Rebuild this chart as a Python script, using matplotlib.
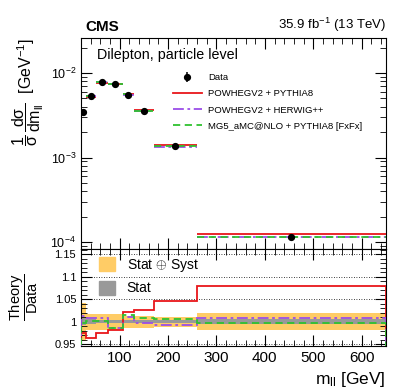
import numpy as np
import matplotlib
matplotlib.use("Agg")
import matplotlib.pyplot as plt
from matplotlib.patches import Patch
from matplotlib.lines import Line2D
from matplotlib.ticker import MultipleLocator, FixedLocator

plt.rcParams['font.family'] = ['Liberation Sans', 'DejaVu Sans']
plt.rcParams['mathtext.fontset'] = 'custom'
plt.rcParams['mathtext.rm'] = 'Liberation Sans'
plt.rcParams['mathtext.it'] = 'Liberation Sans:italic'
plt.rcParams['mathtext.sf'] = 'Liberation Sans'

# bin edges in m_ll [GeV]
bin_edges = [20, 30, 50, 76, 106, 130, 170, 260, 650]

# normalised cross section (data) [1/GeV]
data_xsec = [3.46e-3, 5.34e-3, 7.76e-3, 7.50e-3, 5.50e-3, 3.52e-3, 1.36e-3, 1.15e-4]

# relative uncertainties (half width of the bands)
rel_tot = [0.042, 0.018, 0.018, 0.018, 0.013, 0.013, 0.011, 0.019]
rel_stat = [0.008, 0.005, 0.004, 0.004, 0.004, 0.004, 0.004, 0.006]

# theory / data ratios
ratio_pw_py = [0.975, 0.964, 0.976, 0.982, 1.021, 1.027, 1.045, 1.080]
ratio_pw_hw = [1.012, 1.008, 1.008, 0.987, 1.010, 0.998, 0.993, 1.008]
ratio_mg = [0.997, 1.002, 1.002, 0.986, 1.014, 1.008, 1.006, 0.996]

labels = ["POWHEGV2 + PYTHIA8", "POWHEGV2 + HERWIG++", "MG5_aMC@NLO + PYTHIA8 [FxFx]"]
colors = ["#e8161a", "#9b4ee8", "#2fc12f"]
styles = ["-", (0, (6, 2, 1.5, 2)), (0, (4, 2.5))]

edges = np.array(bin_edges, dtype=float)
centers = 0.5 * (edges[:-1] + edges[1:])
data = np.array(data_xsec)
ratios = [np.array(ratio_pw_py), np.array(ratio_pw_hw), np.array(ratio_mg)]

fig = plt.figure(figsize=(4.07, 3.91), dpi=100)
ax = fig.add_axes([0.199, 0.363, 0.749, 0.540])
rax = fig.add_axes([0.199, 0.115, 0.749, 0.248], sharex=ax)

# top panel: predictions as horizontal segments per bin
for r, c, ls in zip(ratios, colors, styles):
    ax.hlines(data * r, edges[:-1], edges[1:], colors=c, linestyles=[ls], lw=1.3, zorder=3)
data_handle = ax.errorbar(centers, data, yerr=data * np.array(rel_tot), fmt='o', color='k',
                          ms=4.2, elinewidth=1.1, capsize=0, zorder=5)

ax.set_yscale('log')
ax.set_xlim(20, 650)
ax.set_ylim(8.3e-5, 2.6e-2)
ax.tick_params(which='both', direction='in', top=True, right=True, labelsize=9)
ax.tick_params(which='major', length=8)
ax.tick_params(which='minor', length=4)
ax.tick_params(axis='x', labelbottom=False)
ax.xaxis.set_major_locator(MultipleLocator(100))
ax.xaxis.set_minor_locator(MultipleLocator(20))
ax.set_ylabel(r"$\dfrac{1}{\mathrm{\sigma}}\,\dfrac{\mathrm{d\sigma}}{\mathrm{dm_{ll}}}$  [GeV$^{-1}$]",
              fontsize=11.5, loc='top')
ax.yaxis.set_label_coords(-0.115, 1.0)

ax.text(0.016, 1.02, "CMS", transform=ax.transAxes, fontsize=11, fontweight='bold',
        ha='left', va='bottom')
ax.text(1.0, 1.02, r"35.9 fb$^{-1}$ (13 TeV)", transform=ax.transAxes, fontsize=9.5,
        ha='right', va='bottom')
ax.text(0.053, 0.919, "Dilepton, particle level", transform=ax.transAxes, fontsize=10.3,
        ha='left', va='center')

handles = [data_handle]
handles += [Line2D([], [], color=c, ls=ls, lw=1.3) for c, ls in zip(colors, styles)]
ax.legend(handles, ["Data"] + labels, loc='upper left', bbox_to_anchor=(0.29, 0.85),
          frameon=False, fontsize=6.8, handlelength=3.0, handletextpad=0.7,
          labelspacing=0.75, borderaxespad=0)

# ratio panel
tot = np.array(rel_tot)
stat = np.array(rel_stat)
rax.stairs(1 + tot, edges, baseline=1 - tot, fill=True, color='#ffcc66', lw=0, zorder=1)
rax.stairs(1 + stat, edges, baseline=1 - stat, fill=True, color='#999999', lw=0, zorder=2)
for r, c, ls in zip(ratios, colors, styles):
    rax.stairs(r, edges, color=c, ls=ls, lw=1.3, zorder=3)

rax.set_ylim(0.946, 1.161)
rax.yaxis.set_major_locator(FixedLocator([0.95, 1.0, 1.05, 1.1, 1.15]))
rax.yaxis.set_minor_locator(MultipleLocator(0.01))
rax.set_yticklabels(["0.95", "1", "1.05", "1.1", "1.15"])
for yv in [0.95, 1.05, 1.1, 1.15]:
    rax.axhline(yv, color='k', ls=(0, (1, 2)), lw=0.6, zorder=0)
rax.tick_params(which='both', direction='in', top=True, right=True)
rax.tick_params(axis='y', labelsize=8)
rax.tick_params(axis='x', labelsize=11)
rax.tick_params(which='major', length=8)
rax.tick_params(which='minor', length=4)
rax.set_ylabel(r"$\dfrac{\mathrm{Theory}}{\mathrm{Data}}$", fontsize=10.5)
rax.yaxis.set_label_coords(-0.134, 0.5)
rax.set_xlabel(r"m$_{\mathrm{ll}}$ [GeV]", fontsize=12.5, loc='right')

rax.legend([Patch(color='#ffcc66'), Patch(color='#999999')],
           [r"Stat $\oplus$ Syst", "Stat"], loc='upper left', bbox_to_anchor=(0.04, 0.98),
           frameon=False, fontsize=10, handlelength=1.2, handleheight=1.2,
           labelspacing=0.5, borderaxespad=0)

fig.savefig("out.png", dpi=100)
